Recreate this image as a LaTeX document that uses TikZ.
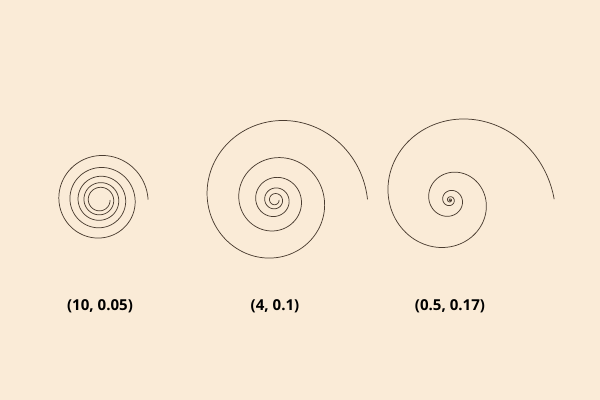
\documentclass[tikz,border=0pt]{standalone}
\usepackage{fontspec}
\usepackage{xcolor}
\usepackage{tikz}
\usetikzlibrary{positioning}
\newfontfamily\labelfont{Open Sans}
\definecolor{paper}{RGB}{250,235,215}
\definecolor{curvebrown}{RGB}{74,60,48}
\tikzset{
  spiral/.style={
    draw=curvebrown,
    line width=0.55pt,
    line join=round
  },
  caption/.style={
    font=\labelfont\bfseries\fontsize{11.3}{13}\selectfont,
    text=black,
    inner sep=0pt
  }
}

\begin{document}
\begin{tikzpicture}[x=0.75pt, y=-0.75pt]
\fill[paper] (0,0) rectangle (600,400);
\useasboundingbox (0,0) rectangle (600,400);
% spirals r = a e^{b t}, t from 0 to 10 pi
\foreach \a/\b/\cx/\name in {10/0.05/100/one, 4/0.1/275/two, 0.5/0.17/450/three}{
  \draw[spiral] plot[domain=0:31.4159, samples=500, smooth, variable=\t]
    ({\cx+\a*exp(\b*\t)*cos(\t r)}, {200+\a*exp(\b*\t)*sin(\t r)});
  \coordinate (c\name) at (\cx,306);
}
\node[caption] (lblone) at (cone) {(10, 0.05)};
\node[caption] (lbltwo) at (ctwo) {(4, 0.1)};
\node[caption] (lblthree) at (cthree) {(0.5, 0.17)};
\end{tikzpicture}
\end{document}
